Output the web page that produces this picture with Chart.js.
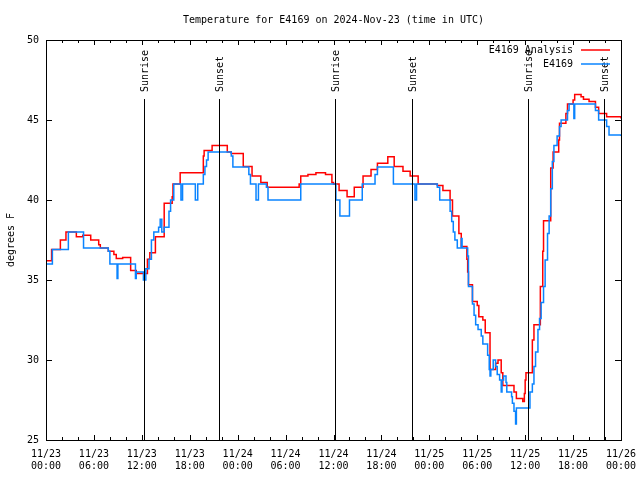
<!DOCTYPE html>
<html>
<head>
<meta charset="utf-8">
<script src="https://cdn.jsdelivr.net/npm/chart.js@4.4.1/dist/chart.umd.min.js"></script>
<style>
    html, body { margin: 0; padding: 0; background: #fff; }
</style>
</head>
<body>
<canvas id="tempChart" width="640" height="480"></canvas>
<script>
// hours since 11/23 00:00 UTC, temperature in degrees F
const analysisHours = [0, 0.7, 1.8, 2.5, 3.8, 4.6, 5.6, 6.6, 6.8, 7.8, 8.5, 8.8, 9.6, 10.6, 11.3,
    12.7, 13.0, 13.7, 14.8, 15.8, 15.9, 16.8, 19.7, 19.8, 20.8, 22.7, 23.2, 24.7, 25.8, 26.9, 27.7,
    31.7, 31.9, 32.8, 33.8, 35.0, 35.8, 36.0, 36.7, 37.7, 38.6, 39.7, 40.7, 41.5, 42.8, 43.6, 44.7,
    45.6, 46.6, 49.0, 49.7, 50.6, 50.9, 51.7, 52.0, 52.7, 52.8, 52.9, 53.4, 54.0, 54.2, 54.7, 55.0,
    55.6, 56.3, 56.6, 57.0, 57.2, 58.6, 58.9, 59.7, 59.9, 60.0, 60.1, 60.9, 61.1, 61.9, 62.2, 62.3,
    63.2, 63.5, 64.2, 64.3, 65.1, 65.3, 66.0, 66.2, 67.0, 67.3, 68.0, 68.8, 69.2, 70.2, 72.0];
const analysisTemps = [36.2, 36.9, 37.5, 38.0, 37.7, 37.8, 37.5, 37.2, 37.0, 36.8, 36.6, 36.35, 36.4, 35.6, 35.4,
    36.3, 36.7, 37.7, 39.8, 40.2, 41.0, 41.7, 42.75, 43.1, 43.4, 43.0, 42.9, 42.1, 41.5, 41.1, 40.8,
    41.0, 41.5, 41.6, 41.7, 41.6, 41.1, 41.0, 40.6, 40.2, 40.8, 41.5, 41.9, 42.3, 42.7, 42.1, 41.8,
    41.5, 41.0, 40.9, 40.6, 40.0, 39.0, 37.9, 37.1, 36.3, 35.5, 34.7, 33.65, 33.4, 32.7, 32.5, 31.7,
    29.4, 29.8, 30.0, 29.2, 28.4, 28.0, 27.6, 27.4, 27.9, 28.75, 29.2, 31.25, 32.2, 34.6, 36.8, 38.7,
    42.0, 43.0, 43.75, 44.8, 45.4, 46.0, 46.25, 46.6, 46.45, 46.3, 46.15, 45.8, 45.4, 45.2, 45.1];

const obsHours = [0, 0.8, 2.8, 4.7, 7.8, 8.0, 8.9, 9.0, 11.2, 11.3, 12.2, 12.5, 12.9, 13.2, 13.5,
    14.1, 14.3, 14.5, 14.8, 15.4, 15.6, 16.0, 16.9, 17.1, 18.7, 19.0, 19.7, 19.9, 20.1, 20.3, 23.2,
    23.4, 25.4, 25.6, 26.3, 26.6, 27.6, 27.8, 31.9, 36.3, 36.8, 38.0, 39.6, 41.2, 41.5, 43.5, 46.2,
    46.4, 49.0, 49.3, 50.6, 50.8, 51.0, 51.2, 51.5, 52.0, 52.1, 52.8, 52.9, 53.4, 53.6, 53.8, 54.1,
    54.5, 54.7, 55.3, 55.5, 55.6, 55.7, 56.0, 56.3, 56.5, 56.8, 57.0, 57.1, 57.3, 57.6, 57.7, 58.3,
    58.4, 58.6, 58.8, 58.9, 60.6, 60.9, 61.1, 61.3, 61.6, 61.8, 62.0, 62.3, 62.5, 62.8, 63.0, 63.2,
    63.4, 63.6, 64.0, 64.3, 64.5, 65.3, 65.5, 66.1, 66.2, 68.8, 69.2, 70.2, 70.5, 72.0];
const obsTemps = [36.0, 36.9, 38.0, 37.0, 36.8, 36.0, 35.1, 36.0, 35.1, 35.5, 35.0, 35.7, 36.3, 37.5, 38.0,
    38.3, 38.8, 38.0, 38.3, 39.3, 40.0, 41.0, 40.0, 41.0, 40.0, 41.0, 41.6, 42.1, 42.5, 43.0, 42.75,
    42.06, 41.6, 41.0, 40.0, 41.0, 40.8, 40.0, 41.0, 40.0, 39.0, 40.0, 41.0, 41.6, 42.06, 41.0, 40.0,
    41.0, 40.8, 40.0, 39.3, 38.65, 38.0, 37.5, 37.0, 37.6, 37.0, 36.5, 34.6, 33.5, 32.8, 32.2, 31.9,
    31.5, 31.0, 30.3, 29.4, 29.0, 29.4, 30.0, 29.6, 29.1, 28.75, 28.0, 28.75, 29.0, 28.6, 28.0, 27.7,
    27.3, 26.8, 26.0, 27.0, 28.0, 28.5, 29.6, 30.5, 31.9, 32.6, 33.6, 34.6, 36.25, 37.9, 39.0, 40.7,
    42.4, 43.4, 44.0, 44.6, 45.0, 45.6, 46.0, 45.1, 46.0, 45.6, 45.0, 44.6, 44.06, 44.0];

const sunHours = [12.3, 21.7, 36.2, 45.8, 60.3, 69.85];
const sunLabels = ["Sunrise", "Sunset", "Sunrise", "Sunset", "Sunrise", "Sunset"];

const tickHours = [0, 6, 12, 18, 24, 30, 36, 42, 48, 54, 60, 66, 72];
const tickLabels = [
    ["11/23", "00:00"], ["11/23", "06:00"], ["11/23", "12:00"], ["11/23", "18:00"],
    ["11/24", "00:00"], ["11/24", "06:00"], ["11/24", "12:00"], ["11/24", "18:00"],
    ["11/25", "00:00"], ["11/25", "06:00"], ["11/25", "12:00"], ["11/25", "18:00"],
    ["11/26", "00:00"]
];

const monoFont = "'DejaVu Sans Mono', 'Liberation Mono', monospace";

// Frame with inward ticks on all four sides (gnuplot style)
const frameTicks = {
    id: "frameTicks",
    afterDatasetsDraw(chart) {
        const { ctx, chartArea: a, scales: { x, y } } = chart;
        ctx.save();
        ctx.strokeStyle = "#000";
        ctx.lineWidth = 1;
        ctx.beginPath();
        x.ticks.forEach((t) => {
            const px = Math.round(x.getPixelForValue(t.value)) + 0.5;
            const len = tickHours.includes(t.value) ? 5 : 3;
            ctx.moveTo(px, a.bottom);
            ctx.lineTo(px, a.bottom - len);
            ctx.moveTo(px, a.top);
            ctx.lineTo(px, a.top + len);
        });
        y.ticks.forEach((t) => {
            const py = Math.round(y.getPixelForValue(t.value)) + 0.5;
            ctx.moveTo(a.left, py);
            ctx.lineTo(a.left + 6, py);
            ctx.moveTo(a.right, py);
            ctx.lineTo(a.right - 6, py);
        });
        ctx.stroke();
        ctx.strokeRect(Math.round(a.left) + 0.5, Math.round(a.top) + 0.5,
            Math.round(a.right - a.left), Math.round(a.bottom - a.top));
        ctx.restore();
    }
};

// Sunrise / sunset markers
const sunMarkers = {
    id: "sunMarkers",
    afterDatasetsDraw(chart) {
        const { ctx, chartArea: a, scales: { x } } = chart;
        ctx.save();
        ctx.strokeStyle = "#000";
        ctx.fillStyle = "#000";
        ctx.lineWidth = 1;
        ctx.font = "10px " + monoFont;
        sunHours.forEach((h, i) => {
            const px = Math.round(x.getPixelForValue(h)) + 0.5;
            ctx.beginPath();
            ctx.moveTo(px, a.top + 59);
            ctx.lineTo(px, a.bottom);
            ctx.stroke();
            ctx.save();
            ctx.translate(px + 1, a.top + 52);
            ctx.rotate(-Math.PI / 2);
            ctx.textAlign = "left";
            ctx.textBaseline = "middle";
            ctx.fillText(sunLabels[i], 0, 0);
            ctx.restore();
        });
        ctx.restore();
    }
};

// Key in the top right corner, text right-aligned before the sample line
const keyBox = {
    id: "keyBox",
    afterDraw(chart) {
        const { ctx, chartArea: a } = chart;
        ctx.save();
        ctx.font = "10px " + monoFont;
        ctx.textAlign = "right";
        ctx.textBaseline = "middle";
        chart.data.datasets.forEach((ds, i) => {
            const yy = a.top + 10 + i * 14;
            ctx.fillStyle = "#000";
            ctx.fillText(ds.label, a.right - 48, yy);
            ctx.strokeStyle = ds.borderColor;
            ctx.lineWidth = 1.5;
            ctx.beginPath();
            ctx.moveTo(a.right - 40, yy);
            ctx.lineTo(a.right - 11, yy);
            ctx.stroke();
        });
        ctx.restore();
    }
};

const ctx = document.getElementById("tempChart").getContext("2d");
new Chart(ctx, {
    type: "line",
    data: {
        datasets: [
            {
                label: "E4169 Analysis",
                data: analysisHours.map((h, i) => ({ x: h, y: analysisTemps[i] })),
                borderColor: "#ff0000",
                borderWidth: 1.5,
                stepped: true,
                pointRadius: 0,
                fill: false,
                order: 1,
            },
            {
                label: "E4169",
                data: obsHours.map((h, i) => ({ x: h, y: obsTemps[i] })),
                borderColor: "#0a84ff",
                borderWidth: 1.5,
                stepped: true,
                pointRadius: 0,
                fill: false,
                order: 0,
            },
        ],
    },
    options: {
        responsive: false,
        animation: false,
        layout: { padding: { top: 0, right: 19, bottom: 0, left: 0 } },
        plugins: {
            legend: { display: false },
            tooltip: { enabled: false },
            title: {
                display: true,
                text: "Temperature for E4169 on 2024-Nov-23 (time in UTC)",
                color: "#000",
                fullSize: false,
                font: { family: monoFont, size: 10, weight: "normal" },
                padding: { top: 14, bottom: 14 },
            },
        },
        scales: {
            x: {
                type: "linear",
                min: 0,
                max: 72,
                afterFit: (scale) => {
                    scale.height = 40;
                    scale.paddingLeft = 0;
                    scale.paddingRight = 0;
                },
                grid: { display: false, drawTicks: false },
                border: { display: false },
                ticks: {
                    stepSize: 2,
                    autoSkip: false,
                    maxRotation: 0,
                    padding: 8,
                    color: "#000",
                    font: { family: monoFont, size: 10 },
                    callback: (value) => {
                        const idx = tickHours.indexOf(value);
                        return idx >= 0 ? tickLabels[idx] : "";
                    },
                },
            },
            y: {
                min: 25,
                max: 50,
                afterFit: (scale) => { scale.width = 46; },
                grid: { display: false, drawTicks: false },
                border: { display: false },
                ticks: {
                    stepSize: 5,
                    padding: 7,
                    color: "#000",
                    font: { family: monoFont, size: 10 },
                },
                title: {
                    display: true,
                    text: "degrees F",
                    color: "#000",
                    font: { family: monoFont, size: 10 },
                    padding: { top: 5, bottom: 0 },
                },
            },
        },
    },
    plugins: [frameTicks, sunMarkers, keyBox],
});
</script>
</body>
</html>
